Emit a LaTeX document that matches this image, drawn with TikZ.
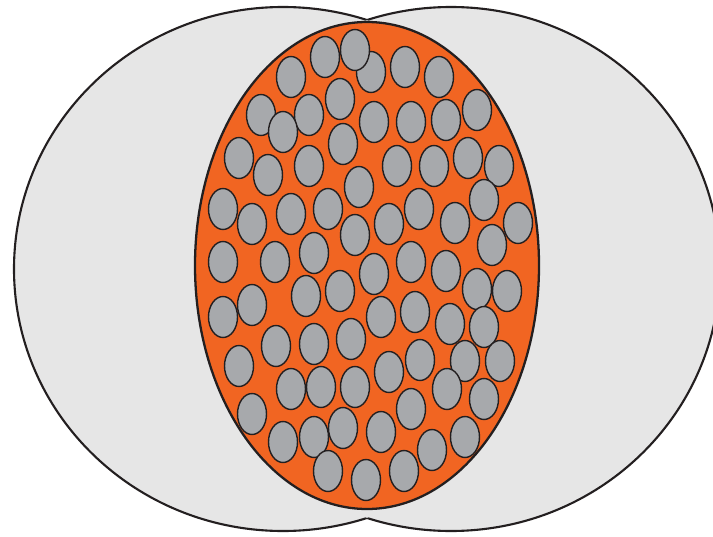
\documentclass[tikz,border=0pt]{standalone}
\usepackage{tikz}

\definecolor{cellgray}{RGB}{230,230,230}
\definecolor{coreorange}{RGB}{241,101,34}
\definecolor{pelletgray}{RGB}{167,169,172}
\definecolor{outline}{RGB}{35,31,32}

\begin{document}
\begin{tikzpicture}[
    x=0.02cm, y=-0.02cm,
    cell/.style={fill=cellgray},
    celledge/.style={draw=outline, line width=1.2pt},
    core/.style={draw=outline, fill=coreorange, line width=1.3pt},
    pellet/.style={draw=outline, fill=pelletgray, line width=0.8pt}
]
    \useasboundingbox (0,0) rectangle (713,537);
    \clip (0,0) rectangle (713,537);

% -------------------------
% Outer cells
% -------------------------
    \fill[cell] (283,269) ellipse (269 and 262);
    \fill[cell] (451,269) ellipse (269 and 262);
    % each outline only where it is not inside the other cell
    \begin{scope}[even odd rule]
        \clip (-10,-10) rectangle (723,547) (451,269) ellipse (269 and 262);
        \draw[celledge] (283,269) ellipse (269 and 262);
    \end{scope}
    \begin{scope}[even odd rule]
        \clip (-10,-10) rectangle (723,547) (283,269) ellipse (269 and 262);
        \draw[celledge] (451,269) ellipse (269 and 262);
    \end{scope}

% -------------------------
% Orange core
% -------------------------
    \draw[core] (367,265.5) ellipse (172 and 243.5);

% -------------------------
% Pellets (top to bottom)
% -------------------------
    \foreach \px/\py in {
        371/72, 325/57, 355/50, 405/67, 439/77, 291/77,
        340/99, 261/115, 309/115, 283/132, 374/122, 411/122, 446/120, 477/110,
        239/158, 268/175, 309/166, 343/144, 397/166, 434/166, 468/158, 499/166,
        359/187, 223/209, 252/224, 291/214, 328/209, 389/224, 419/209, 455/223,
        484/200, 518/223, 355/235, 223/262, 275/262, 314/253, 374/274, 411/262,
        446/271, 492/245, 306/296, 340/291, 381/317, 415/312, 450/324, 477/289,
        507/291, 484/327, 223/317, 252/305, 276/346, 314/344, 351/339,
        239/366, 291/389, 321/387, 355/387, 389/372, 420/360, 465/361, 500/361,
        447/389, 484/399, 411/409, 252/414, 283/442, 314/437, 343/428, 381/432,
        432/450, 465/437, 328/471, 366/480, 404/471}
    {
        \draw[pellet] (\px,\py) ellipse (14.5 and 20.5);
    }
\end{tikzpicture}
\end{document}
